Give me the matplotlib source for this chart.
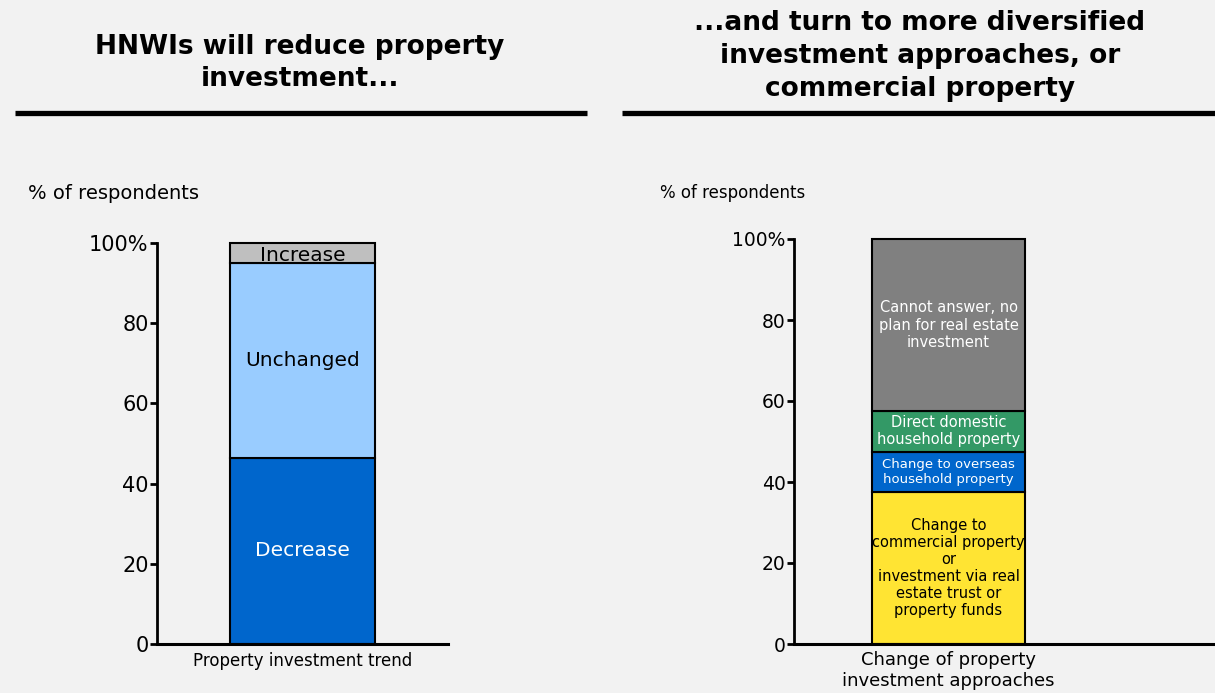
import matplotlib
matplotlib.use("Agg")
import matplotlib.pyplot as plt
from matplotlib.lines import Line2D

plt.rcParams['font.family'] = ['DejaVu Sans']

# Left chart data
left_category = "Property investment trend"
left_labels = ["Decrease", "Unchanged", "Increase"]
left_values = [46.5, 48.5, 5.0]
left_colors = ["#0066CC", "#99CCFF", "#BFBFBF"]
left_text_colors = ["white", "black", "black"]

# Right chart data
right_category = "Change of property\ninvestment approaches"
right_labels = ["Change to\ncommercial property\nor\ninvestment via real\nestate trust or\nproperty funds",
                "Change to overseas\nhousehold property",
                "Direct domestic\nhousehold property",
                "Cannot answer, no\nplan for real estate\ninvestment"]
right_values = [37.5, 10.0, 10.0, 42.5]
right_colors = ["#FFE433", "#0066CC", "#339966", "#808080"]
right_text_colors = ["black", "white", "white", "white"]
right_text_sizes = [10.5, 9.5, 10.5, 10.5]

yticks = [0, 20, 40, 60, 80, 100]
ytick_labels = ["0", "20", "40", "60", "80", "100%"]

BG = "#F2F2F2"
W, H = 1215, 693
fig = plt.figure(figsize=(W / 100, H / 100), dpi=100, facecolor=BG)


def px_axes(x0, x1, y_top, y_bot):
    return fig.add_axes([x0 / W, 1 - y_bot / H, (x1 - x0) / W, (y_bot - y_top) / H])


def style_axes(ax, labelsize):
    ax.set_facecolor(BG)
    ax.patch.set_alpha(0)
    for s in ["top", "right"]:
        ax.spines[s].set_visible(False)
    ax.spines["left"].set_linewidth(2)
    ax.spines["bottom"].set_linewidth(2.2)
    ax.set_ylim(0, 100)
    ax.set_xlim(0, 1)
    ax.set_yticks(yticks)
    ax.set_yticklabels(ytick_labels)
    ax.tick_params(axis="y", length=5, width=2, labelsize=labelsize, pad=1, colors="black")
    ax.tick_params(axis="x", length=0, labelsize=12, pad=6)


# Left axes
axL = px_axes(157, 448, 243, 644)
style_axes(axL, 15)
bottom = 0
for v, c, lab, tc in zip(left_values, left_colors, left_labels, left_text_colors):
    axL.bar(0.5, v, width=0.5, bottom=bottom, color=c, edgecolor="black", linewidth=1.5, clip_on=False, zorder=2)
    axL.text(0.5, bottom + v / 2 - (0.6 if lab == "Increase" else 0), lab, ha="center", va="center",
             fontsize=14.5, color=tc, zorder=3)
    bottom += v
axL.set_xticks([0.5])
axL.set_xticklabels([left_category], fontsize=12)

# Right axes
axR = px_axes(794, 1215, 239, 644)
style_axes(axR, 13.5)
bottom = 0
for v, c, lab, tc, fs in zip(right_values, right_colors, right_labels, right_text_colors, right_text_sizes):
    axR.bar(0.367, v, width=0.363, bottom=bottom, color=c, edgecolor="black", linewidth=1.5, clip_on=False, zorder=2)
    axR.text(0.367, bottom + v / 2, lab, ha="center", va="center", fontsize=fs, color=tc,
             linespacing=1.18, zorder=3)
    bottom += v
axR.set_xticks([0.367])
axR.set_xticklabels([right_category], fontsize=13, linespacing=1.2)
axR.tick_params(axis="x", pad=5)

# Titles
fig.text(300 / W, 1 - 63 / H, "HNWIs will reduce property\ninvestment...", ha="center", va="center",
         fontsize=19, fontweight="bold", linespacing=1.35)
fig.text(920 / W, 1 - 56 / H, "...and turn to more diversified\ninvestment approaches, or\ncommercial property",
         ha="center", va="center", fontsize=19, fontweight="bold", linespacing=1.35)

# Rules
fig.add_artist(Line2D([15 / W, 587 / W], [1 - 113 / H, 1 - 113 / H], color="black", linewidth=3.8,
                      transform=fig.transFigure, solid_capstyle="butt"))
fig.add_artist(Line2D([622 / W, 1215 / W], [1 - 113 / H, 1 - 113 / H], color="black", linewidth=3.8,
                      transform=fig.transFigure, solid_capstyle="butt"))

# Unit labels
fig.text(28 / W, 1 - 193 / H, "% of respondents", ha="left", va="center", fontsize=14)
fig.text(660 / W, 1 - 193 / H, "% of respondents", ha="left", va="center", fontsize=12)

fig.savefig("out.png", dpi=100, facecolor=BG)
